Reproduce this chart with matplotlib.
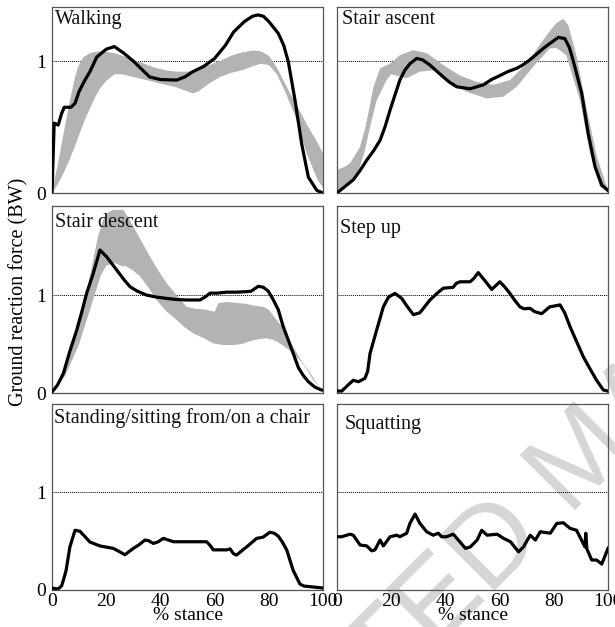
import numpy as np
import matplotlib
matplotlib.use("Agg")
import matplotlib.pyplot as plt

plt.rcParams['font.family'] = ['Liberation Serif', 'DejaVu Serif']

# ---------------- data ----------------
titles = ["Walking", "Stair ascent", "Stair descent", "Step up",
          "Standing/sitting from/on a chair", "Squatting"]
xticks = [0, 20, 40, 60, 80, 100]
xtick_labels = ["0", "20", "40", "60", "80", "100"]
yticks = [0, 1]
ytick_labels = ["0", "1"]
ylabel = "Ground reaction force (BW)"
xlabel = "% stance"

# Walking
wk_x = [0, 0.8, 2.3, 3.5, 4.5, 7, 8.5, 10, 12, 14, 16.5, 20, 23, 26.5, 30, 33, 36, 40, 46, 49, 52,
        56, 60, 64, 67, 71, 74, 76, 78, 80, 83.5, 85.5, 87.2, 89.7, 92.1, 94.6, 97.7, 100]
wk_y = [0, 0.53, 0.515, 0.6, 0.65, 0.65, 0.68, 0.77, 0.85, 0.92, 1.03, 1.09, 1.11, 1.06, 1.0, 0.94,
        0.88, 0.86, 0.856, 0.88, 0.92, 0.96, 1.02, 1.12, 1.22, 1.3, 1.34, 1.35, 1.34, 1.3, 1.21, 1.12,
        0.995, 0.70, 0.376, 0.12, 0.02, 0.0]
wk_up_x = [0, 2, 4, 6.6, 8.5, 9.7, 11.6, 14, 16, 18, 20, 23, 26, 30, 34, 38, 42, 46, 50, 54, 58, 62,
           66, 70, 74, 77, 80, 83, 86, 88, 90, 92, 94, 96, 98, 100]
wk_up_y = [0.02, 0.2, 0.42, 0.70, 0.88, 0.96, 1.03, 1.06, 1.07, 1.075, 1.07, 1.06, 1.04, 1.01, 0.98,
           0.95, 0.93, 0.92, 0.92, 0.94, 0.97, 1.0, 1.04, 1.065, 1.08, 1.075, 1.04, 0.95, 0.83, 0.75,
           0.68, 0.6, 0.52, 0.45, 0.38, 0.3]
wk_lo_x = [0, 2, 4, 6, 8, 10, 12, 14, 16, 18, 20, 23, 26, 30, 34, 38, 42, 46, 50, 52, 54, 58, 62, 66,
           70, 74, 77, 80, 83, 86, 88, 90, 92, 94, 96, 98, 100]
wk_lo_y = [0.0, 0.06, 0.14, 0.23, 0.33, 0.44, 0.55, 0.64, 0.73, 0.8, 0.85, 0.9, 0.9, 0.88, 0.86, 0.84,
           0.82, 0.8, 0.77, 0.755, 0.77, 0.83, 0.88, 0.91, 0.93, 0.96, 0.98, 0.97, 0.9, 0.77, 0.67,
           0.57, 0.43, 0.3, 0.2, 0.1, 0.04]

# Stair ascent
sa_x = [0, 3, 6, 8.5, 11, 13.5, 15.9, 17.7, 19.6, 21.5, 23.2, 25, 26.9, 29.4, 31.5, 34.3, 37, 39.2,
        41.5, 44.2, 49.1, 54, 57, 60.1, 63, 66.3, 68.5, 71.2, 73.5, 76.1, 79, 81.7, 84.1, 85.8, 87.2,
        90.3, 92.7, 95.2, 97.7, 100]
sa_y = [0, 0.05, 0.1, 0.17, 0.25, 0.32, 0.40, 0.5, 0.63, 0.75, 0.856, 0.93, 0.98, 1.02, 1.01, 0.97,
        0.92, 0.88, 0.84, 0.805, 0.79, 0.82, 0.86, 0.89, 0.92, 0.945, 0.97, 1.01, 1.05, 1.096, 1.14,
        1.18, 1.17, 1.1, 1.0, 0.755, 0.45, 0.2, 0.06, 0.02]
sa_up_x = [0, 3, 5, 8.5, 10.5, 12, 13.4, 15.9, 19.6, 23.2, 28.2, 33.1, 39.2, 45.4, 51.5, 57.7, 63.8,
           70, 76.1, 79, 81.1, 83.5, 85.4, 88.5, 92.2, 95.9, 99.5, 100]
sa_up_y = [0.175, 0.2, 0.23, 0.35, 0.5, 0.65, 0.8, 0.945, 0.98, 1.045, 1.083, 1.06, 0.97, 0.89, 0.843,
           0.82, 0.856, 0.98, 1.16, 1.24, 1.29, 1.32, 1.27, 1.03, 0.63, 0.275, 0.05, 0.03]
sa_lo_x = [0, 4, 8, 10, 12.2, 14.6, 18.3, 20, 25.7, 30.6, 35.5, 41.7, 47.8, 55.2, 61.4, 66.3, 72.4,
           78.5, 81, 84.6, 89.7, 93.4, 97, 100]
sa_lo_y = [0.0, 0.07, 0.17, 0.3, 0.5, 0.7, 0.856, 0.9, 0.87, 0.92, 0.93, 0.843, 0.767, 0.717, 0.73,
           0.805, 0.957, 1.096, 1.1, 1.045, 0.7, 0.3, 0.05, 0.0]

# Stair descent
sd_x = [0, 2, 4.2, 6.5, 9.1, 11, 12.8, 15.2, 17.7, 20.2, 23.9, 26.5, 28.8, 31.5, 34.9, 38.5, 42.3,
        46, 49.7, 54.6, 56.5, 58.3, 61, 64.4, 68, 71.8, 73.5, 76.1, 78, 79.8, 81.5, 83.5, 85.3, 87.2,
        89, 90.9, 92.7, 94.6, 97, 99.5, 100]
sd_y = [0.01, 0.08, 0.2, 0.42, 0.64, 0.83, 1.02, 1.22, 1.46, 1.39, 1.255, 1.16, 1.085, 1.04, 1.0,
        0.98, 0.966, 0.955, 0.95, 0.95, 0.98, 1.02, 1.02, 1.03, 1.03, 1.035, 1.04, 1.09, 1.08, 1.04,
        0.96, 0.85, 0.68, 0.54, 0.405, 0.26, 0.18, 0.115, 0.06, 0.03, 0.03]
sd_up_x = [0, 3, 6, 10.3, 13, 15.2, 17, 18.9, 20.5, 22.6, 26.3, 28, 30, 33, 36.2, 39, 42.3, 46, 49.7,
           53, 57.1, 60, 61.5, 64.5, 68, 71.8, 75, 78, 80, 82.9, 84.8, 87, 89.7, 92, 94.6, 97, 98.9, 100]
sd_up_y = [0, 0.15, 0.38, 0.745, 1.05, 1.36, 1.6, 1.77, 1.84, 1.87, 1.87, 1.8, 1.70, 1.55, 1.39, 1.26,
           1.12, 1.0, 0.88, 0.86, 0.85, 0.83, 0.92, 0.93, 0.92, 0.91, 0.89, 0.88, 0.85, 0.745, 0.68,
           0.56, 0.44, 0.33, 0.235, 0.13, 0.05, 0.03]
sd_lo_x = [0, 5, 10, 14, 18, 20, 23, 26.3, 27, 30, 32.5, 35.5, 38.6, 42, 46, 49, 52.1, 56, 59.5, 63,
           66.9, 70, 74.3, 79.2, 82, 85, 88, 91, 93.4, 96, 98, 100]
sd_lo_y = [0, 0.18, 0.5, 0.85, 1.2, 1.3, 1.33, 1.29, 1.3, 1.25, 1.19, 1.08, 0.95, 0.84, 0.745, 0.67,
           0.61, 0.56, 0.507, 0.49, 0.49, 0.5, 0.54, 0.56, 0.54, 0.49, 0.43, 0.35, 0.27, 0.15, 0.08, 0.03]

# Step up
su_x = [0, 1.8, 4, 6, 7.9, 10.3, 11.3, 12.2, 14.6, 17.1, 19, 21.4, 23.9, 26, 28.2, 30.6, 34.3, 37,
        39.2, 42.9, 44, 45.4, 49.1, 50.5, 52.1, 54.5, 57.1, 60.1, 62, 63.8, 65.5, 67.5, 69, 71.2, 73,
        75.5, 78.5, 80.5, 82.3, 84, 86, 88.5, 90.9, 93.5, 95.8, 98.3, 100]
su_y = [0.02, 0.02, 0.08, 0.13, 0.115, 0.15, 0.22, 0.405, 0.64, 0.88, 0.98, 1.017, 0.966, 0.88, 0.80,
        0.82, 0.95, 1.02, 1.07, 1.08, 1.12, 1.136, 1.136, 1.17, 1.23, 1.15, 1.058, 1.136, 1.08, 1.017,
        0.95, 0.88, 0.86, 0.865, 0.83, 0.81, 0.88, 0.89, 0.90, 0.82, 0.677, 0.52, 0.37, 0.24, 0.13,
        0.03, 0.02]

# Standing/sitting
st_x = [0, 2.2, 3.5, 4.2, 5.2, 6.6, 8.5, 10.3, 12, 14, 17.7, 22.6, 25, 26.9, 30, 32, 34.3, 35.5, 37.4,
        39, 41.1, 44.8, 49.7, 54, 57.1, 58.5, 59.5, 64.5, 65.7, 67, 68.1, 70, 71.8, 75.5, 77.9, 80.4,
        82, 83.5, 85, 86.6, 89, 91.5, 93, 95.2, 100]
st_y = [0.02, 0.01, 0.04, 0.1, 0.2, 0.44, 0.61, 0.6, 0.55, 0.49, 0.45, 0.425, 0.39, 0.36, 0.425, 0.46,
        0.51, 0.505, 0.476, 0.49, 0.527, 0.493, 0.493, 0.493, 0.493, 0.45, 0.41, 0.41, 0.42, 0.37,
        0.357, 0.4, 0.44, 0.527, 0.54, 0.59, 0.58, 0.55, 0.49, 0.41, 0.2, 0.06, 0.04, 0.034, 0.02]

# Squatting
sq_x = [0, 1.7, 4.8, 6, 8.5, 11, 12.8, 14, 15.9, 17.1, 19.6, 22, 23.2, 25.7, 26.9, 28.8, 30.6, 33.1,
        35.5, 37.4, 38.6, 40.4, 42.9, 44.8, 47.4, 49.2, 51.7, 53.4, 55.4, 59.1, 61.5, 64, 67, 68.8,
        71.3, 73.2, 75, 78.7, 81.1, 83.5, 86, 88.4, 91.5, 91.8, 92.2, 94, 95.8, 97.7, 100]
sq_y = [0.544, 0.544, 0.57, 0.56, 0.46, 0.45, 0.40, 0.41, 0.51, 0.45, 0.544, 0.56, 0.544, 0.58, 0.68,
        0.776, 0.68, 0.595, 0.56, 0.58, 0.544, 0.544, 0.57, 0.51, 0.425, 0.44, 0.51, 0.61, 0.56, 0.57,
        0.527, 0.493, 0.39, 0.44, 0.56, 0.51, 0.595, 0.58, 0.68, 0.687, 0.63, 0.61, 0.44, 0.58, 0.42,
        0.306, 0.306, 0.265, 0.425]

lines = [(wk_x, wk_y), (sa_x, sa_y), (sd_x, sd_y), (su_x, su_y), (st_x, st_y), (sq_x, sq_y)]
bands = [(wk_up_x, wk_up_y, wk_lo_x, wk_lo_y), (sa_up_x, sa_up_y, sa_lo_x, sa_lo_y),
         (sd_up_x, sd_up_y, sd_lo_x, sd_lo_y), None, None, None]
row_ymax = [1.41, 1.91, 1.9]

# ---------------- layout ----------------
W, H = 615, 627
fig = plt.figure(figsize=(W / 100, H / 100), dpi=100)
col_x = [52, 337]
col_w = 271
row_top = [7, 206, 404]
row_bot = [193, 393, 590]

title_off = [(3, 3), (4.5, 3), (3, 7), (3.5, 13), (2.5, 4), (8, 11)]

for i in range(6):
    r, c = divmod(i, 2)
    ax = fig.add_axes([col_x[c] / W, 1 - row_bot[r] / H, col_w / W, (row_bot[r] - row_top[r]) / H])
    ax.set_facecolor('none')
    ax.set_xlim(0, 100)
    ax.set_ylim(0, row_ymax[r])
    ax.axhline(1, color='black', lw=0.7, ls=(0, (1, 1)), zorder=1)
    if bands[i] is not None:
        ux, uy, lx, ly = bands[i]
        ax.fill(np.concatenate([ux, lx[::-1]]), np.concatenate([uy, ly[::-1]]),
                color='#b3b3b3', lw=0, zorder=2)
    x, y = lines[i]
    ax.plot(x, y, color='black', lw=2.3, zorder=3, solid_joinstyle='round')
    for s in ax.spines.values():
        s.set_color('#555555')
        s.set_linewidth(0.9)
    ax.tick_params(length=0, labelsize=14, pad=3)
    if c == 0:
        ax.set_yticks(yticks)
        ax.set_yticklabels(ytick_labels)
        ax.tick_params(axis='y', pad=4)
    else:
        ax.set_yticks([])
    if r == 2:
        ax.set_xticks(xticks)
        ax.set_xticklabels(xtick_labels)
        ax.tick_params(axis='x', pad=2)
        ax.set_xlabel(xlabel, fontsize=14, labelpad=-2)
    else:
        ax.set_xticks([])
    dx, dy = title_off[i]
    ax.annotate(titles[i], xy=(0, 1), xycoords='axes fraction',
                xytext=(dx * 0.72, -dy * 0.72), textcoords='offset points',
                ha='left', va='top', fontsize=14.5, color='#111111')

fig.text(19 / W, 1 - 292 / H, ylabel, rotation=90, ha='center', va='center', fontsize=14.5)

# faint watermark
fig.text(584 / W, 1 - 460 / H, "ACCEPTED MANUSCRIPT", rotation=45, ha='center', va='center',
         fontsize=82, color='#d6d6d6', family='Liberation Sans', zorder=-10)

fig.savefig("out.png", dpi=100)
